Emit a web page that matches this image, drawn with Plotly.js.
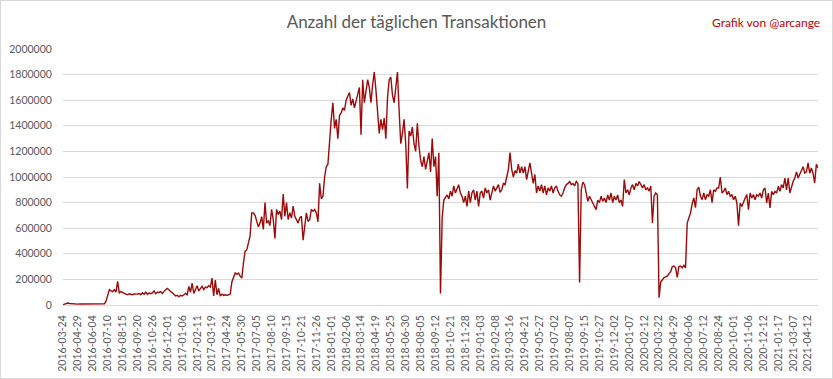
<!DOCTYPE html>
<html>
<head>
<meta charset="utf-8">
<script src="https://cdn.plot.ly/plotly-3.0.1.min.js"></script>
<style>
  html, body { margin: 0; padding: 0; background: #fff; }
  #wrap { position: relative; width: 833px; height: 379px; }
  #chart { width: 833px; height: 379px; }
  #frame { position: absolute; left: 0; top: 0; width: 831px; height: 377px; border: 1px solid #d9d9d9; pointer-events: none; }
</style>
</head>
<body>
<div id="wrap"><div id="chart"></div><div id="frame"></div></div>
<script>
// Tick labels (one every 36 daily categories)
const tickLabels = [
  "2016-03-24","2016-04-29","2016-06-04","2016-07-10","2016-08-15","2016-09-20","2016-10-26","2016-12-01",
  "2017-01-06","2017-02-11","2017-03-19","2017-04-24","2017-05-30","2017-07-05","2017-08-10","2017-09-15",
  "2017-10-21","2017-11-26","2018-01-01","2018-02-06","2018-03-14","2018-04-19","2018-05-25","2018-06-30",
  "2018-08-05","2018-09-12","2018-10-21","2018-11-28","2019-01-03","2019-02-08","2019-03-16","2019-04-21",
  "2019-05-27","2019-07-02","2019-08-07","2019-09-15","2019-10-27","2019-12-02","2020-01-07","2020-02-12",
  "2020-03-22","2020-04-29","2020-06-06","2020-07-12","2020-08-24","2020-10-01","2020-11-06","2020-12-12",
  "2021-01-17","2021-03-07","2021-04-12"
];
const categoriesPerTick = 36;
const categoriesPerSample = 4;

// Daily transactions, read every 4th category from the picture
const transactions = [
  3000,8000,12000,15000,12000,10000,10000,8000,8000,
  7000,8000,8000,9000,8000,8000,9000,8000,8000,
  8000,8000,9000,8000,9000,9000,10000,10000,30000,
  75000,120000,110000,105000,120000,100000,185000,95000,105000,
  95000,90000,85000,80000,88000,82000,80000,86000,84000,
  85000,90000,80000,95000,84000,100000,82000,95000,88000,
  95000,110000,88000,100000,98000,105000,90000,110000,120000,
  130000,115000,105000,95000,80000,70000,75000,65000,75000,
  70000,80000,90000,80000,145000,100000,170000,90000,120000,
  150000,110000,130000,145000,120000,140000,135000,150000,140000,
  210000,70000,195000,80000,130000,70000,85000,75000,80000,
  75000,80000,85000,180000,220000,250000,240000,250000,225000,
  210000,330000,420000,430000,500000,540000,720000,720000,700000,
  660000,610000,640000,690000,590000,800000,640000,660000,620000,
  747000,667000,520000,747000,707000,733000,667000,867000,693000,
  800000,667000,720000,680000,773000,693000,667000,640000,680000,
  693000,507000,640000,720000,653000,667000,747000,733000,747000,
  720000,650000,950000,830000,850000,1000000,1080000,1100000,1300000,
  1450000,1580000,1380000,1450000,1300000,1480000,1500000,1540000,1520000,
  1600000,1630000,1660000,1560000,1610000,1540000,1600000,1650000,1700000,
  1330000,1760000,1580000,1660000,1760000,1700000,1580000,1720000,1820000,
  1680000,1520000,1340000,1450000,1370000,1460000,1300000,1620000,1760000,
  1780000,1640000,1580000,1700000,1820000,1520000,1260000,1340000,1450000,
  1260000,910000,1360000,1320000,1390000,1260000,1200000,1420000,1240000,
  1130000,1080000,1160000,1060000,1130000,1190000,1040000,1300000,1080000,
  1160000,850000,1190000,90000,680000,820000,840000,860000,830000,
  890000,850000,930000,875000,915000,940000,875000,850000,800000,
  850000,770000,890000,800000,875000,900000,820000,890000,770000,
  875000,890000,835000,915000,875000,900000,820000,875000,930000,
  890000,920000,940000,880000,900000,950000,940000,1000000,1060000,
  1190000,1060000,1000000,1050000,1030000,1100000,1030000,1080000,1030000,
  1080000,980000,1060000,1110000,1030000,950000,1020000,875000,930000,
  890000,940000,875000,930000,860000,915000,890000,930000,875000,
  915000,930000,890000,860000,850000,875000,915000,940000,950000,
  965000,940000,950000,930000,965000,950000,175000,900000,960000,
  940000,875000,810000,850000,820000,800000,770000,745000,820000,
  800000,850000,810000,835000,800000,860000,820000,875000,800000,
  850000,820000,860000,800000,820000,770000,980000,875000,900000,
  860000,915000,940000,900000,950000,930000,965000,940000,915000,
  940000,900000,915000,890000,930000,640000,850000,875000,860000,
  57000,180000,200000,215000,220000,225000,245000,260000,300000,
  305000,290000,215000,300000,305000,290000,310000,290000,640000,
  680000,720000,790000,836000,760000,900000,920000,850000,823000,
  875000,823000,862000,850000,900000,800000,900000,888000,914000,
  914000,1000000,875000,888000,914000,862000,888000,850000,862000,
  823000,850000,797000,620000,797000,770000,810000,836000,862000,
  745000,875000,836000,862000,823000,862000,850000,875000,836000,
  900000,914000,797000,875000,758000,888000,862000,888000,875000,
  927000,888000,940000,914000,992000,900000,992000,875000,927000,
  966000,992000,1040000,992000,1020000,1060000,1080000,1030000,1040000,
  1110000,1030000,1070000,1030000,953000,1100000,1070000
];
const yTicks = [0,200000,400000,600000,800000,1000000,1200000,1400000,1600000,1800000,2000000];

const xIdx = transactions.map((_, i) => i * categoriesPerSample);
const tickPos = tickLabels.map((_, i) => i * categoriesPerTick);

const trace = {
  x: xIdx, y: transactions, type: 'scatter', mode: 'lines',
  line: { color: '#9c0a0a', width: 1.4 },
  hoverinfo: 'skip'
};

const font = { family: 'Lato, "Open Sans", sans-serif', color: '#595959' };
const layout = {
  width: 833, height: 379,
  margin: { l: 63, r: 15, t: 49, b: 74, pad: 0 },
  paper_bgcolor: '#ffffff', plot_bgcolor: '#ffffff',
  showlegend: false,
  title: {
    text: 'Anzahl der täglichen Transaktionen',
    font: { family: font.family, color: '#595959', size: 17 },
    xref: 'container', x: 0.5, xanchor: 'center',
    yref: 'container', y: 1 - 22 / 379, yanchor: 'middle'
  },
  xaxis: {
    type: 'linear',
    range: [0, (transactions.length - 1) * categoriesPerSample],
    tickmode: 'array', tickvals: tickPos, ticktext: tickLabels,
    tickangle: -90,
    tickfont: { family: font.family, color: '#595959', size: 10.5 },
    ticks: 'outside', ticklen: 5, tickcolor: 'rgba(0,0,0,0)',
    showgrid: false, zeroline: false,
    showline: true, linecolor: '#d9d9d9', linewidth: 1
  },
  yaxis: {
    range: [0, 2000000],
    tickmode: 'array', tickvals: yTicks, tickformat: 'd',
    tickfont: { family: font.family, color: '#595959', size: 10.5 },
    ticks: 'outside', ticklen: 8, tickcolor: 'rgba(0,0,0,0)',
    showgrid: true, gridcolor: '#d9d9d9', gridwidth: 1,
    zeroline: false, showline: false
  },
  annotations: [{
    text: 'Grafik von @arcange',
    xref: 'paper', yref: 'paper',
    x: (822 - 63) / 755, xanchor: 'right',
    y: (305 - 22) / 256, yanchor: 'middle',
    showarrow: false,
    font: { family: font.family, color: '#c00000', size: 12 }
  }]
};

Plotly.newPlot('chart', [trace], layout, { staticPlot: true, displayModeBar: false });
</script>
</body>
</html>
